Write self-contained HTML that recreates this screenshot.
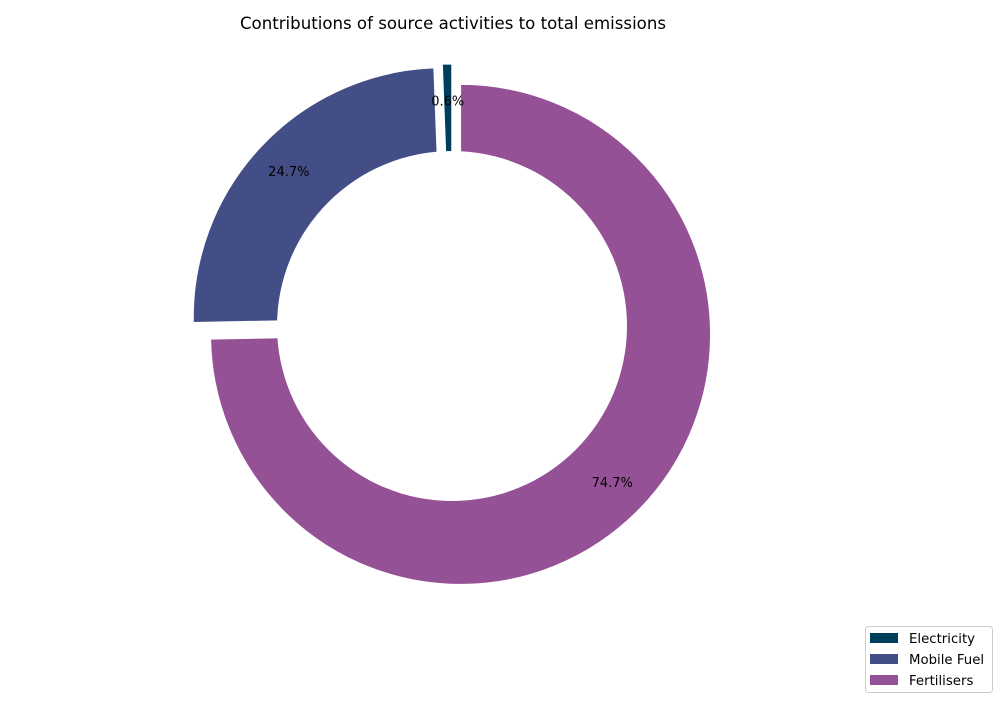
<!DOCTYPE html>
<html><head><meta charset="utf-8"><style>
body{margin:0;background:#fff;font-family:"DejaVu Sans","Liberation Sans",sans-serif}
</style></head><body>
<svg id="chart" width="1000" height="700" viewBox="0 0 1000 700" font-family="DejaVu Sans, Liberation Sans, sans-serif">
<text x="453" y="29" text-anchor="middle" font-size="16.6" fill="#000">Contributions of source activities to total emissions</text>
<g id="wedges"></g>
<circle cx="452" cy="326" r="175" fill="#fff"/>
<g id="labels"></g>
<g>
<rect x="865.5" y="626.5" width="127" height="66" rx="3" fill="#fff" stroke="#ccc"/>
<g id="legend-items"></g>
</g>
</svg>
<script>
const categories = ["Electricity", "Mobile Fuel", "Fertilisers"];
const values = [0.6, 24.7, 74.7];
const colors = ["#003f5c", "#444e86", "#955196"];
const NS = "http://www.w3.org/2000/svg";
const cx = 452, cy = 326, R = 250, explode = 12, pctDist = 0.85;
const total = values.reduce((a, b) => a + b, 0);
const wg = document.getElementById("wedges"), lg = document.getElementById("labels"), leg = document.getElementById("legend-items");
function pt(x, y, rad, ang) { return [x + rad * Math.cos(ang), y - rad * Math.sin(ang)]; }
let start = 90;
values.forEach((v, i) => {
  const sweep = v / total * 360;
  const a0 = start * Math.PI / 180, a1 = (start + sweep) * Math.PI / 180, am = (a0 + a1) / 2;
  const ox = cx + explode * Math.cos(am), oy = cy - explode * Math.sin(am);
  const large = sweep > 180 ? 1 : 0;
  const p0 = pt(ox, oy, R, a0), p1 = pt(ox, oy, R, a1);
  const d = `M${ox},${oy} L${p0[0]},${p0[1]} A${R},${R} 0 ${large} 0 ${p1[0]},${p1[1]} Z`;
  const path = document.createElementNS(NS, "path");
  path.setAttribute("d", d);
  path.setAttribute("fill", colors[i]);
  path.setAttribute("stroke", "#fff");
  path.setAttribute("stroke-width", "1");
  
  
  wg.appendChild(path);
  const lp = pt(ox, oy, R * pctDist, am);
  const t = document.createElementNS(NS, "text");
  t.setAttribute("x", lp[0]); t.setAttribute("y", lp[1] + 4);
  t.setAttribute("text-anchor", "middle"); t.setAttribute("font-size", "13");
  t.textContent = v.toFixed(1) + "%";
  
  
  lg.appendChild(t);
  const y = 638 + i * 21;
  const sw = document.createElementNS(NS, "rect");
  sw.setAttribute("x", 870); sw.setAttribute("y", y - 5); sw.setAttribute("width", 28); sw.setAttribute("height", 10);
  sw.setAttribute("fill", colors[i]);
  
  
  leg.appendChild(sw);
  const lt = document.createElementNS(NS, "text");
  lt.setAttribute("x", 909); lt.setAttribute("y", y + 5); lt.setAttribute("font-size", "13.3");
  lt.textContent = categories[i];
  
  
  leg.appendChild(lt);
  start += sweep;
});
</script>
</body></html>
